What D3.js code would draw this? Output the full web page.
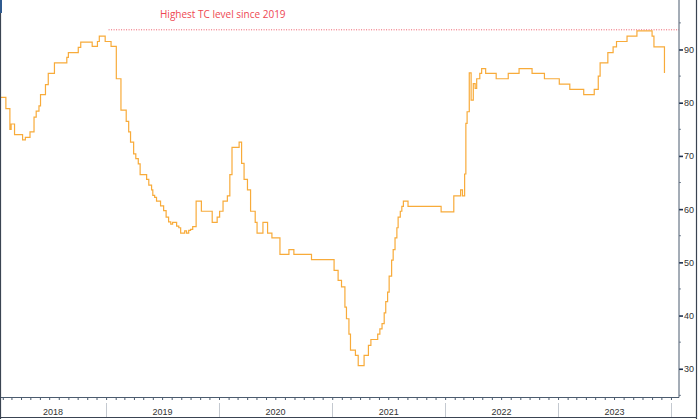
<!DOCTYPE html>
<html>
<head>
<meta charset="utf-8">
<script src="https://cdn.jsdelivr.net/npm/d3@7"></script>
<style>
  body { margin: 0; background: #fff; }
  svg { display: block; font-family: "Open Sans", "Liberation Sans", sans-serif; }
</style>
</head>
<body>
<div id="chart"></div>
<script>
// step dates (value holds from this date on)
var dates = [
  "2018-01-23","2018-02-11","2018-02-24","2018-02-28","2018-03-11","2018-04-06","2018-04-15","2018-04-30",
  "2018-05-13","2018-05-20","2018-05-29","2018-06-03","2018-06-19","2018-06-28","2018-07-18","2018-08-27",
  "2018-09-01","2018-10-03","2018-10-11","2018-11-17","2018-12-04","2018-12-10","2018-12-29","2019-01-17",
  "2019-02-03","2019-02-18","2019-03-07","2019-03-15","2019-03-21","2019-03-31","2019-04-07","2019-04-15",
  "2019-04-21","2019-05-12","2019-05-19","2019-05-28","2019-06-01","2019-06-07","2019-06-13","2019-06-26",
  "2019-07-06","2019-07-14","2019-07-22","2019-07-29","2019-08-04","2019-08-17","2019-08-24","2019-08-30",
  "2019-09-12","2019-09-18","2019-09-25","2019-10-01","2019-10-08","2019-10-19","2019-11-05","2019-12-10",
  "2019-12-26","2020-01-03","2020-01-14","2020-01-28","2020-02-05","2020-02-12","2020-03-06","2020-03-14",
  "2020-03-22","2020-04-02","2020-04-12","2020-04-27","2020-05-03","2020-05-22","2020-06-06","2020-06-20",
  "2020-07-16","2020-08-14","2020-08-30","2020-10-26","2021-01-07","2021-01-20","2021-01-31","2021-02-11",
  "2021-02-16","2021-02-24","2021-03-01","2021-03-17","2021-03-26","2021-04-14","2021-04-28","2021-05-06",
  "2021-05-28","2021-06-04","2021-06-11","2021-06-18","2021-06-23","2021-06-29","2021-07-04","2021-07-12",
  "2021-07-17","2021-07-23","2021-07-29","2021-08-02","2021-08-09","2021-08-14","2021-08-19","2021-09-03",
  "2021-12-19","2022-01-29","2022-02-20","2022-02-26","2022-03-05","2022-03-09","2022-03-13","2022-03-20",
  "2022-03-26","2022-04-02","2022-04-08","2022-04-13","2022-04-23","2022-04-29","2022-05-12","2022-06-15",
  "2022-07-24","2022-08-28","2022-10-09","2022-11-18","2023-01-05","2023-02-08","2023-03-25","2023-04-28",
  "2023-05-11","2023-05-17","2023-06-11","2023-06-28","2023-07-09","2023-08-12","2023-09-13","2023-11-01",
  "2023-11-07","2023-12-11"
];
var values = [
  81.0, 78.9, 75.0, 76.0, 74.0, 73.0, 73.5, 74.5,
  77.3, 78.4, 79.4, 81.5, 83.4, 85.5, 87.5, 88.5,
  89.4, 90.4, 91.4, 90.6, 91.5, 92.5, 91.5, 90.6,
  84.5, 78.6, 76.5, 74.5, 72.6, 70.4, 69.5, 68.5,
  66.5, 65.6, 64.5, 63.6, 62.6, 62.2, 61.5, 60.6,
  59.7, 58.5, 57.6, 57.2, 57.5, 56.8, 56.5, 55.5,
  55.9, 55.5, 56.0, 56.2, 56.7, 61.5, 59.6, 57.5,
  58.5, 59.6, 61.5, 62.5, 66.5, 71.6, 72.6, 68.6,
  65.6, 63.6, 59.6, 57.5, 55.5, 57.5, 55.5, 54.6,
  51.5, 52.4, 51.5, 50.5, 48.5, 46.6, 45.4, 41.6,
  39.4, 36.5, 33.5, 32.5, 30.6, 32.5, 34.4, 35.5,
  36.5, 37.5, 38.5, 40.5, 42.6, 44.4, 47.4, 50.4,
  52.4, 54.6, 56.5, 58.5, 59.6, 60.5, 61.5, 60.5,
  59.5, 62.5, 63.6, 62.5, 66.6, 76.1, 78.3, 85.6,
  80.5, 83.6, 82.7, 84.5, 85.5, 86.4, 85.5, 84.5,
  85.5, 86.4, 85.5, 84.5, 83.5, 82.5, 81.5, 82.5,
  85.0, 87.5, 89.4, 90.5, 91.5, 92.5, 93.5, 92.5,
  90.5, 85.6
];
var yTicks = [30, 40, 50, 60, 70, 80, 90];
var yMinor = [25, 35, 45, 55, 65, 75, 85, 95];
var years = ["2018", "2019", "2020", "2021", "2022", "2023"];
var highLevel = 93.7;
var highStart = "2019-01-09";
var noteText = "Highest TC level since 2019";

var W = 700, H = 419;
var plotR = 679, plotB = 397.5;
var parse = d3.timeParse("%Y-%m-%d");

var data = dates.map(function (d, i) { return { date: parse(d), value: values[i] }; });

var x = d3.scaleTime()
  .domain([parse("2018-01-23"), parse("2024-01-27")])
  .range([0, plotR]);
var y = d3.scaleLinear().domain([24.6, 99.3]).range([plotB, 0]);

var svg = d3.select("#chart").append("svg")
  .attr("width", W).attr("height", H);

var axisCol = "#4b5b6e";

// highest-level dotted line and note
svg.append("line")
  .attr("x1", x(parse(highStart))).attr("x2", plotR)
  .attr("y1", y(highLevel)).attr("y2", y(highLevel))
  .attr("stroke", "#ee5a66").attr("stroke-width", 1)
  .attr("stroke-dasharray", "1,1.5");

svg.append("text")
  .attr("x", 160).attr("y", 18.3)
  .attr("fill", "#ee4752")
  .style("font-size", "10px")
  .text(noteText);

// the series
var line = d3.line()
  .curve(d3.curveStepAfter)
  .x(function (d) { return x(d.date); })
  .y(function (d) { return y(d.value); });

svg.append("path")
  .datum(data)
  .attr("fill", "none")
  .attr("stroke", "#f8ab3a")
  .attr("stroke-width", 1.2)
  .attr("d", line);

// right axis
var yAxis = svg.append("g")
  .attr("transform", "translate(" + plotR + ",0)")
  .call(d3.axisRight(y).tickValues(yTicks).tickSize(4).tickPadding(1));
yAxis.select(".domain").remove();
yAxis.selectAll(".tick line").attr("stroke", "#1d3150").attr("stroke-width", 1.6);
yAxis.selectAll(".tick text")
  .attr("fill", "#333")
  .style("font-size", "9px")
  .style("font-family", "'Liberation Sans', sans-serif");

svg.append("g").selectAll("line").data(yMinor).enter().append("line")
  .attr("x1", plotR).attr("x2", plotR + 2)
  .attr("y1", function (d) { return y(d); }).attr("y2", function (d) { return y(d); })
  .attr("stroke", "#7d8a99").attr("stroke-width", 1);

svg.append("line")
  .attr("x1", plotR).attr("x2", plotR).attr("y1", 0).attr("y2", plotB)
  .attr("stroke", axisCol).attr("stroke-width", 1);

// bottom axis with month ticks
var xAxis = svg.append("g")
  .attr("transform", "translate(0," + plotB + ")")
  .call(d3.axisBottom(x).ticks(d3.timeMonth.every(1)).tickSize(2.5).tickFormat(""));
xAxis.select(".domain").remove();
xAxis.selectAll(".tick line").attr("stroke", axisCol);

svg.append("line")
  .attr("x1", 0).attr("x2", plotR).attr("y1", plotB).attr("y2", plotB)
  .attr("stroke", axisCol).attr("stroke-width", 1);

// year band
var yearStarts = years.map(function (yr) { return parse(yr + "-01-01"); });
var yearEnds = years.map(function (yr) { return parse((+yr + 1) + "-01-01"); });

svg.append("g").selectAll("line").data(yearEnds).enter().append("line")
  .attr("x1", function (d) { return Math.round(x(d)) + 0.5; })
  .attr("x2", function (d) { return Math.round(x(d)) + 0.5; })
  .attr("y1", 403).attr("y2", H - 2)
  .attr("stroke", "#c4c9d0").attr("stroke-width", 1);

svg.append("g").selectAll("text").data(years).enter().append("text")
  .attr("x", function (d, i) {
    var a = Math.max(0, x(yearStarts[i])), b = Math.min(plotR, x(yearEnds[i]));
    return (a + b) / 2;
  })
  .attr("y", 415)
  .attr("text-anchor", "middle")
  .attr("fill", "#333")
  .style("font-size", "9px")
  .style("font-family", "'Liberation Sans', sans-serif")
  .text(function (d) { return d; });

// outer frame
svg.append("line").attr("x1", 0.5).attr("x2", 0.5).attr("y1", 0).attr("y2", H)
  .attr("stroke", "#3a4452").attr("stroke-width", 1.2);
svg.append("line").attr("x1", 696.5).attr("x2", 696.5).attr("y1", 0).attr("y2", H)
  .attr("stroke", "#3a4452").attr("stroke-width", 1.2);
svg.append("line").attr("x1", 0).attr("x2", 697).attr("y1", 417.5).attr("y2", 417.5)
  .attr("stroke", "#3a4452").attr("stroke-width", 1.2);
svg.append("rect").attr("x", 0).attr("y", 0).attr("width", 2).attr("height", 13)
  .attr("fill", "#2f5a8f");
</script>
</body>
</html>
